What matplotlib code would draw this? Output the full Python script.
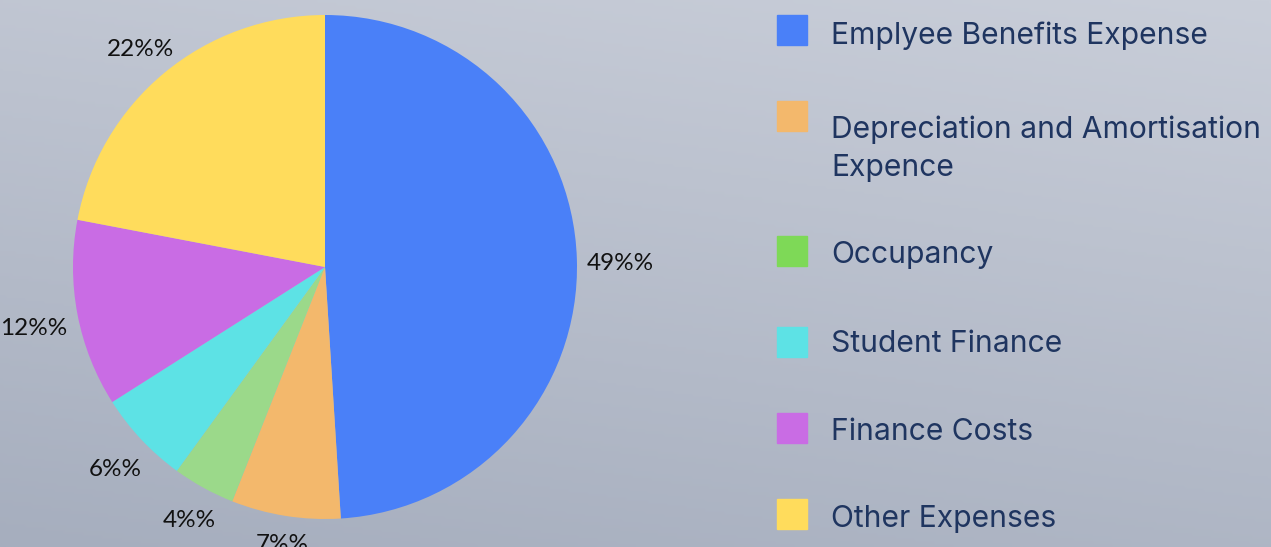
# Expense breakdown pie chart with a side legend
import numpy as np
import matplotlib.pyplot as plt
from matplotlib.colors import LinearSegmentedColormap
from matplotlib.patches import Rectangle

# --- Data ---
categories = ['Emplyee Benefits Expense', 'Depreciation and Amortisation\nExpence',
              'Occupancy', 'Student Finance', 'Finance Costs', 'Other Expenses']
values = [49, 7, 4, 6, 12, 22]
slice_colors = ['#4a80f8', '#f3b86c', '#9bd98a', '#5de2e5', '#c96ce4', '#ffdc5c']
legend_colors = ['#4a80f8', '#f3b86c', '#7ed957', '#5de2e5', '#c96ce4', '#ffdc5c']

plt.rcParams['font.family'] = ['Inter', 'DejaVu Sans']

W, H = 1271, 547
fig = plt.figure(figsize=(W / 100, H / 100), dpi=100)

# --- Background gradient ---
bg = fig.add_axes([0, 0, 1, 1])
yy, xx = np.mgrid[0:1:200j, 0:1:400j]
grad = 0.75 * yy + 0.25 * (1 - xx)
bg.imshow(grad, cmap=LinearSegmentedColormap.from_list('bg', ['#c9ced9', '#a6aebe']),
          aspect='auto', extent=[0, 1, 0, 1], origin='upper')
bg.axis('off')

# --- Pie ---
cx, cy, r = 325, 267, 252
ax = fig.add_axes([(cx - r) / W, (H - cy - r) / H, 2 * r / W, 2 * r / H])
wedges, _ = ax.pie(values, colors=slice_colors, startangle=90, counterclock=False,
                   radius=1, wedgeprops=dict(linewidth=0))
ax.set_xlim(-1, 1)
ax.set_ylim(-1, 1)
ax.axis('off')

# percentage labels: pushed out past the rim by a gap plus the text's own half size
renderer = fig.canvas.get_renderer()
for w, v in zip(wedges, values):
    ang = np.deg2rad((w.theta1 + w.theta2) / 2)
    dx, dy = np.cos(ang), np.sin(ang)
    t = ax.text(0, 0, f'{v}%%', ha='center', va='center_baseline', fontsize=17.5,
                family=['Lato', 'DejaVu Sans'], color='#111111', clip_on=False)
    bb = t.get_window_extent(renderer)
    ext = abs(dx) * bb.width / 2 + abs(dy) * 8.5
    d = (r + 10 + ext) / r
    t.set_position((d * dx, d * dy - 4 / r))

# --- Legend ---
box_y = [30, 116, 251, 342, 428, 514]
base_y = [43.5, 130, 263, 352, 439.5, 527]
for c, lab, yb, yt in zip(legend_colors, categories, box_y, base_y):
    fig.patches.append(Rectangle((777 / W, (H - yb - 15) / H), 30 / W, 30 / H,
                                 transform=fig.transFigure, color=c, zorder=3))
    n = lab.count('\n')
    fig.text(831 / W, (H - yt - n * 45.5) / H, lab, fontsize=21.6, color='#1f3560',
             va='baseline', linespacing=1.45)

fig.savefig('out.png', dpi=100)
